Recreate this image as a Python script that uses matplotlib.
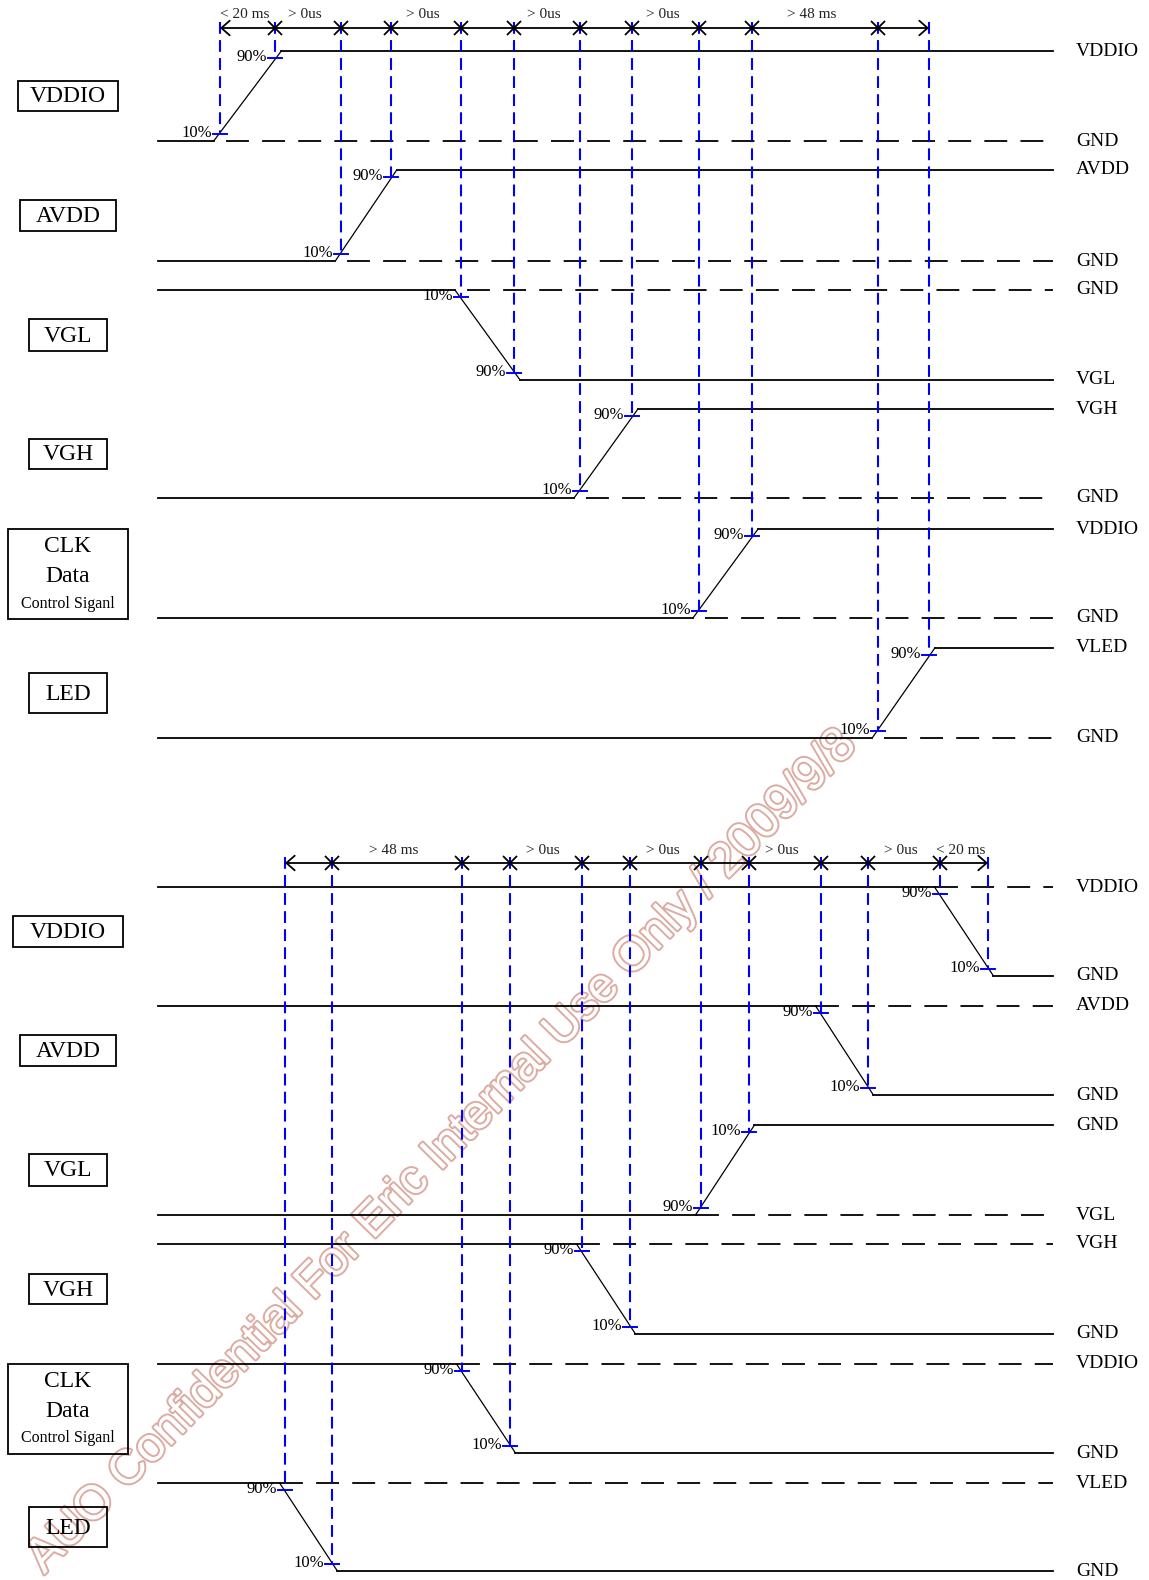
import matplotlib
matplotlib.use("Agg")
import matplotlib.pyplot as plt
import matplotlib.patheffects as pe
from matplotlib.patches import Rectangle

plt.rcParams['font.family'] = ['Liberation Serif', 'DejaVu Serif']
plt.rcParams['lines.scale_dashes'] = False

names = ["VDDIO", "AVDD", "VGL", "VGH", "CLK", "LED"]
hi_lbl = ["VDDIO", "AVDD", "GND", "VGH", "VDDIO", "VLED"]
lo_lbl = ["GND", "GND", "VGL", "GND", "GND", "GND"]

# power on sequence (level before edge, level after edge, 10% / 90% crossing)
on_from = [141, 261, 290, 498, 618, 738]
on_to = [51, 170, 380, 409, 529, 648]
on_t10 = [220, 341, 461, 580, 699, 878]
on_t90 = [275, 391, 514, 632, 752, 929]
on_span_idx = [0, 1, 3, 5, 7, 9]
on_span_txt = ["< 20 ms", "> 0us", "> 0us", "> 0us", "> 0us", "> 48 ms"]

# power off sequence (first crossing is 90%, second 10%)
off_from = [887, 1006, 1215, 1244, 1364, 1483]
off_to = [976, 1095, 1125, 1334, 1453, 1571]
off_t90 = [940, 821, 701, 582, 462, 285]
off_t10 = [988, 868, 749, 630, 510, 332]
off_span_idx = [1, 3, 5, 7, 9, 10]
off_span_txt = ["> 48 ms", "> 0us", "> 0us", "> 0us", "> 0us", "< 20 ms"]

watermark = "AUO Confidential For Eric Internal Use Only / 2009/9/8"

X0, X1 = 158, 1053
BLUE = '#0000ff'
f = 0.08


def draw_panel(ax, y_from, y_to, t_a, t_b, lab_a, lab_b, ruler_y,
               span_idx, span_txt, box_w, box_h, dash_lead):
    for i in range(len(names)):
        y0, y1 = y_from[i], y_to[i]
        ta, tb = t_a[i], t_b[i]
        k = (tb - ta) * f / (1 - 2 * f) * 1.2
        xs, xe = ta - k, tb + k
        ax.plot([X0, xs], [y0, y0], color='k', lw=1.3)
        ax.plot([xs, xe], [y0, y1], color='k', lw=0.9)
        ax.plot([xe, X1], [y1, y1], color='k', lw=1.3)
        ax.plot([xs + dash_lead, X1], [y0, y0], color='k', lw=1.3,
                ls=(0, (16.5, 9.5)))

        ya = y0 + f * (y1 - y0)
        yb = y0 + (1 - f) * (y1 - y0)
        for t, yy, lab in [(ta, ya, lab_a), (tb, yb, lab_b)]:
            ax.plot([t, t], [ruler_y - 6, yy], color=BLUE, lw=1.5,
                    ls=(0, (8.5, 4.5)))
            ax.plot([t - 7, t + 7], [yy, yy], color=BLUE, lw=1.4)
            ax.text(t - 8, yy - 1, lab, ha='right', va='center', fontsize=12)

        top, bot = min(y0, y1), max(y0, y1)
        ax.text(1076, top, hi_lbl[i], ha='left', va='center', fontsize=14)
        ax.text(1076, bot, lo_lbl[i], ha='left', va='center', fontsize=14)

        mid = (y0 + y1) / 2
        w, h = box_w[i], box_h[i]
        ax.add_patch(Rectangle((68 - w / 2, mid - h / 2), w, h, fill=False,
                               lw=1.3, ec='k'))
        if names[i] == "CLK":
            ax.text(68, mid - 27, "CLK", ha='center', va='center', fontsize=17)
            ax.text(68, mid + 3, "Data", ha='center', va='center', fontsize=17)
            ax.text(68, mid + 30, "Control Siganl", ha='center', va='center',
                    fontsize=11.5)
        else:
            ax.text(68, mid + 1, names[i], ha='center', va='center', fontsize=17)

    marks = sorted(t_a + t_b)
    ax.annotate('', xy=(marks[0], ruler_y), xytext=(marks[-1], ruler_y),
                arrowprops=dict(arrowstyle='<->,head_length=0.4,head_width=0.35',
                                lw=1.3, color='k', shrinkA=0, shrinkB=0,
                                mutation_scale=15))
    ax.plot(marks[1:-1], [ruler_y] * (len(marks) - 2), 'x', color='k',
            ms=10, mew=1.3)
    for idx, txt in zip(span_idx, span_txt):
        xm = (marks[idx] + marks[idx + 1]) / 2 - 3
        ax.text(xm, ruler_y - 13, txt, ha='center', va='center', fontsize=11,
                color='#222222')


fig = plt.figure(figsize=(11.49, 15.80), dpi=100)
ax = fig.add_axes([0, 0, 1, 1])
ax.set_xlim(0, 1149)
ax.set_ylim(1580, 0)
ax.axis('off')

ax.text(442, 1152, watermark, rotation=45.5, rotation_mode='anchor',
        ha='center', va='center', fontsize=34.5, family='Liberation Sans',
        color='white', zorder=0,
        path_effects=[pe.withStroke(linewidth=2.8, foreground='#dcaca2')])

draw_panel(ax, on_from, on_to, on_t10, on_t90, "10%", "90%", 28,
           on_span_idx, on_span_txt,
           [100, 96, 78, 78, 120, 78], [30, 31, 32, 30, 90, 40], 12)
draw_panel(ax, off_from, off_to, off_t90, off_t10, "90%", "10%", 863,
           off_span_idx, off_span_txt,
           [110, 96, 78, 78, 120, 78], [31, 31, 32, 30, 90, 40], 0)

fig.savefig("out.png", dpi=100)
